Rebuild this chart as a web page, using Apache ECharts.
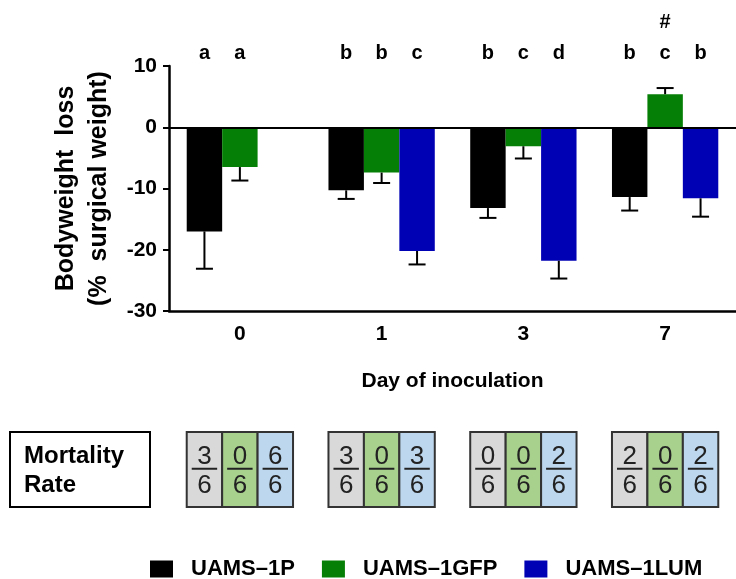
<!DOCTYPE html>
<html>
<head>
<meta charset="utf-8">
<script src="https://cdn.jsdelivr.net/npm/echarts@6/dist/echarts.min.js"></script>
<style>
html, body { margin: 0; padding: 0; background: #fff; }
#main { width: 736px; height: 579px; }
</style>
</head>
<body>
<div id="main"></div>
<script>
// bodyweight loss per day + mortality table
var days = ['0', '1', '3', '7'];
var seriesNames = ['UAMS–1P', 'UAMS–1GFP', 'UAMS–1LUM'];
var lossP = [-17.0, -10.3, -13.2, -11.4];
var lossGFP = [-6.5, -7.4, -3.1, 5.4];
var lossLUM = [null, -20.2, -21.8, -11.6];
var semP = [6.1, 1.4, 1.6, 2.2];
var semGFP = [2.2, 1.7, 2.0, 1.0];
var semLUM = [null, 2.2, 2.9, 3.0];
var lettersP = ['a', 'b', 'b', 'b'];
var lettersGFP = ['a', 'b', 'c', 'c'];
var lettersLUM = ['', 'c', 'd', 'b'];
var hashGFP = ['', '', '', '#'];
var deadP = [3, 3, 0, 2];
var deadGFP = [0, 0, 0, 0];
var deadLUM = [6, 3, 2, 2];
var groupSize = 6;
var yTicks = [-30, -20, -10, 0, 10];

var barColors = ['#000000', '#067f06', '#0000b4'];
var cellColors = ['#d9d9d9', '#a9d18e', '#bdd7ee'];
var FONT = '"Liberation Sans", Arial, sans-serif';

var allLoss = [lossP, lossGFP, lossLUM];
var allSem = [semP, semGFP, semLUM];
var allLetters = [lettersP, lettersGFP, lettersLUM];
var allDead = [deadP, deadGFP, deadLUM];

var errData = [];
var letterData = [];
var letterText = [];
var cellData = [];
for (var s = 0; s < 3; s++) {
    for (var i = 0; i < days.length; i++) {
        if (allLoss[s][i] != null) {
            errData.push([i, allLoss[s][i], allSem[s][i], s]);
        }
        if (allLetters[s][i]) {
            letterData.push([i, 10, s, 0]);
            letterText.push(allLetters[s][i]);
        }
        if (s === 1 && hashGFP[i]) {
            letterData.push([i, 10, s, 1]);
            letterText.push(hashGFP[i]);
        }
        cellData.push([i, 0, s, allDead[s][i], groupSize]);
    }
}

function errorItem(params, api) {
    var idx = api.value(0), val = api.value(1), err = api.value(2), s = api.value(3);
    var band = api.size([1, 0])[0];
    var base = api.coord([idx, val]);
    var x = base[0] + (s - 1) * band * 0.25;
    var end = api.coord([idx, val < 0 ? val - err : val + err]);
    var cap = band * 0.06;
    return {
        type: 'group',
        children: [
            { type: 'line', shape: { x1: x, y1: base[1], x2: x, y2: end[1] }, style: { stroke: '#000', lineWidth: 2 } },
            { type: 'line', shape: { x1: x - cap, y1: end[1], x2: x + cap, y2: end[1] }, style: { stroke: '#000', lineWidth: 2 } }
        ]
    };
}

function letterItem(params, api) {
    var idx = api.value(0), s = api.value(2), isHash = api.value(3);
    var band = api.size([1, 0])[0];
    var top = api.coord([idx, api.value(1)]);
    return {
        type: 'text',
        x: top[0] + (s - 1) * band * 0.25,
        y: top[1] - (isHash ? 44 : 13),
        style: {
            text: letterText[params.dataIndex],
            font: 'bold 20px ' + FONT,
            fill: '#000',
            textAlign: 'center',
            textVerticalAlign: 'middle'
        }
    };
}

function cellItem(params, api) {
    var idx = api.value(0), s = api.value(2), num = api.value(3), den = api.value(4);
    var band = api.size([1, 0])[0];
    var w = band * 0.25;
    var c = api.coord([idx, 0]);
    var x0 = c[0] + (s - 1.5) * w;
    var y0 = params.coordSys.y, h = params.coordSys.height;
    var cx = x0 + w / 2;
    return {
        type: 'group',
        children: [
            { type: 'rect', shape: { x: x0, y: y0, width: w, height: h }, style: { fill: cellColors[s], stroke: '#333', lineWidth: 2 } },
            { type: 'text', x: cx, y: y0 + h * 0.33, style: { text: String(num), font: '26px ' + FONT, fill: '#222', textAlign: 'center', textVerticalAlign: 'middle' } },
            { type: 'line', shape: { x1: x0 + 5, y1: y0 + h * 0.49, x2: x0 + w - 5, y2: y0 + h * 0.49 }, style: { stroke: '#222', lineWidth: 2 } },
            { type: 'text', x: cx, y: y0 + h * 0.72, style: { text: String(den), font: '26px ' + FONT, fill: '#222', textAlign: 'center', textVerticalAlign: 'middle' } }
        ]
    };
}

var chart = echarts.init(document.getElementById('main'));

var barSeries = seriesNames.map(function (name, s) {
    var ser = {
        name: name,
        type: 'bar',
        xAxisIndex: 0,
        yAxisIndex: 0,
        barWidth: '25%',
        barGap: '0%',
        itemStyle: { color: barColors[s] },
        data: allLoss[s]
    };
    if (s === 0) {
        ser.markLine = {
            silent: true,
            symbol: 'none',
            label: { show: false },
            lineStyle: { color: '#000', width: 2, type: 'solid' },
            data: [{ yAxis: 0 }]
        };
    }
    return ser;
});

var option = {
    animation: false,
    backgroundColor: '#fff',
    textStyle: { fontFamily: FONT },
    grid: [
        { left: 169, top: 66, width: 573, height: 245 },
        { left: 169, top: 432, width: 573, height: 75 }
    ],
    xAxis: [
        {
            type: 'category',
            gridIndex: 0,
            data: days,
            name: 'Day of inoculation',
            nameLocation: 'middle',
            nameGap: 60,
            nameTextStyle: { fontSize: 21, fontWeight: 'bold', color: '#000' },
            axisLine: { onZero: false, lineStyle: { color: '#000', width: 2.5 } },
            axisTick: { alignWithLabel: true, length: 5, lineStyle: { color: '#000', width: 2 } },
            axisLabel: { fontSize: 21, fontWeight: 'bold', color: '#000', margin: 13 }
        },
        {
            type: 'category',
            gridIndex: 1,
            data: days,
            show: false
        }
    ],
    yAxis: [
        {
            type: 'value',
            gridIndex: 0,
            min: yTicks[0],
            max: yTicks[yTicks.length - 1],
            interval: yTicks[1] - yTicks[0],
            name: 'Bodyweight  loss\n(%  surgical weight)',
            nameLocation: 'middle',
            nameRotate: 90,
            nameGap: 48,
            nameTextStyle: { fontSize: 25, fontWeight: 'bold', color: '#000', lineHeight: 33 },
            axisLine: { show: true, lineStyle: { color: '#000', width: 2.5 } },
            axisTick: { show: true, length: 6, lineStyle: { color: '#000', width: 2 } },
            axisLabel: { fontSize: 21, fontWeight: 'bold', color: '#000', margin: 12 },
            splitLine: { show: false }
        },
        {
            type: 'value',
            gridIndex: 1,
            min: 0,
            max: 1,
            show: false
        }
    ],
    legend: {
        data: seriesNames,
        left: 145,
        top: 553,
        itemWidth: 23,
        itemHeight: 17,
        itemGap: 27,
        icon: 'rect',
        textStyle: { fontSize: 22, fontWeight: 'bold', color: '#000', padding: [0, 0, 0, 13] }
    },
    graphic: [
        {
            type: 'rect',
            shape: { x: 10, y: 432, width: 140, height: 75 },
            style: { fill: '#fff', stroke: '#000', lineWidth: 2 }
        },
        {
            type: 'text',
            x: 24,
            y: 471,
            style: {
                text: 'Mortality\nRate',
                font: 'bold 24px ' + FONT,
                fill: '#000',
                lineHeight: 29,
                textVerticalAlign: 'middle'
            }
        }
    ],
    series: barSeries.concat([
        {
            type: 'custom',
            xAxisIndex: 0,
            yAxisIndex: 0,
            renderItem: errorItem,
            data: errData,
            z: 3
        },
        {
            type: 'custom',
            xAxisIndex: 0,
            yAxisIndex: 0,
            renderItem: letterItem,
            data: letterData,
            clip: false,
            z: 3
        },
        {
            type: 'custom',
            xAxisIndex: 1,
            yAxisIndex: 1,
            renderItem: cellItem,
            data: cellData,
            z: 3
        }
    ])
};

chart.setOption(option);
</script>
</body>
</html>
